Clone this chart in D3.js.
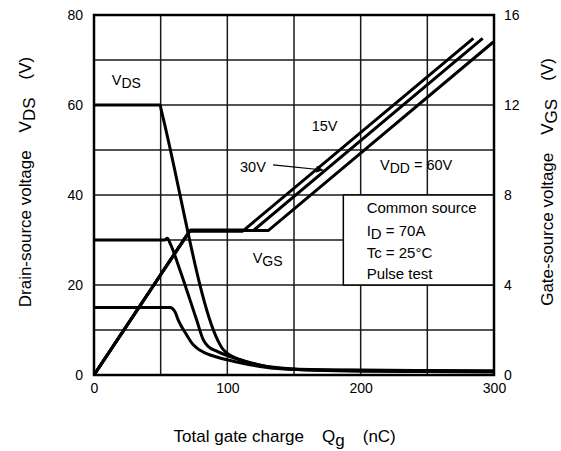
<!DOCTYPE html>
<html><head><meta charset="utf-8">
<script src="https://cdn.jsdelivr.net/npm/d3@7"></script>
<style>
body{margin:0;background:#fff}
text{font-family:"Liberation Sans",Arial,Helvetica,sans-serif;fill:#000}
</style>
</head><body>
<svg id="c" width="561" height="451"></svg>
<script>
// ---- data ----
const qTicks = [0, 100, 200, 300];
const vdsTicks = [0, 20, 40, 60, 80];
const vgsTicks = [0, 4, 8, 12, 16];
const qGrid = [50, 100, 150, 200, 250];
const vGrid = [10, 20, 30, 40, 50, 60, 70];

// VDS curves [Qg (nC), VDS (V)]
const vds15 = [[0,15],[57,15],[60.8,14],[63.2,12.2],[69.5,8.9],[74.5,6.7],[78,5.8],[82,5.1],[92,4.0],[107,2.9],[124.5,1.9],[140,1.4],[200,0.85],[250,0.75],[300,0.65]];
const vds30 = [[0,30],[53,30],[55,30.4],[57,29.3],[64.5,23.3],[77,12.2],[82,7.8],[85.5,6.4],[92,5.3],[102,4.1],[117,2.7],[132,1.75],[150,1.3],[200,1.0],[250,0.9],[300,0.8]];
const vds60 = [[0,60],[49.5,60],[50.5,58.8],[93,7.6],[96,6.0],[99.5,4.9],[104,4.1],[110,3.4],[118,2.7],[125,2.2],[135,1.7],[150,1.35],[200,1.1],[250,1.0],[300,0.95]];

// VGS curves [Qg (nC), VGS (V)]
const vgs15 = [[0,0],[72,6.42],[112,6.42],[284.5,14.96]];
const vgs30 = [[0,0],[72,6.42],[119.5,6.42],[291.5,14.96]];
const vgs60 = [[0,0],[72,6.42],[130.7,6.42],[299.5,14.8]];
const plateau = [[72,6.42],[112,6.42]];

const boxLines = ["Common source", "ID = 70A", "Tc = 25°C", "Pulse test"];

// ---- layout ----
const L = 94, R = 494, T = 15, B = 375;
const svg = d3.select("#c");
const x = d3.scaleLinear().domain([0,300]).range([L,R]);
const yL = d3.scaleLinear().domain([0,80]).range([B,T]);
const yR = d3.scaleLinear().domain([0,16]).range([B,T]);

svg.append("defs").append("clipPath").attr("id","clip")
  .append("rect").attr("x",L).attr("y",T).attr("width",R-L).attr("height",B-T);

// grid
const g = svg.append("g");
g.selectAll(".vg").data(qGrid).join("line")
  .attr("x1",d=>x(d)).attr("x2",d=>x(d)).attr("y1",T).attr("y2",B)
  .attr("stroke","#1a1a1a").attr("stroke-width",1.5);
g.selectAll(".hg").data(vGrid).join("line")
  .attr("x1",L).attr("x2",R).attr("y1",d=>yL(d)).attr("y2",d=>yL(d))
  .attr("stroke","#1a1a1a").attr("stroke-width",1.5);

// condition box
svg.append("rect").attr("x",x(187)).attr("y",yL(40))
  .attr("width",x(300)-x(187)).attr("height",yL(20)-yL(40))
  .attr("fill","#fff").attr("stroke","#000").attr("stroke-width",1.5);

// axes (labels only)
const fs = "14px";
const axL = d3.axisLeft(yL).tickValues(vdsTicks).tickSize(0).tickPadding(11);
const axR = d3.axisRight(yR).tickValues(vgsTicks).tickSize(0).tickPadding(10);
const axB = d3.axisBottom(x).tickValues(qTicks).tickSize(0).tickPadding(8);
[[axL,`translate(${L},0)`],[axR,`translate(${R},0)`],[axB,`translate(0,${B})`]].forEach(([a,t])=>{
  const gg = svg.append("g").attr("transform",t).call(a);
  gg.select(".domain").remove();
  gg.selectAll("text").style("font-size",fs).style("font-family",'"Liberation Sans",Arial,sans-serif').attr("fill","#000");
});

// curves
const plot = svg.append("g").attr("clip-path","url(#clip)");
const lineL = d3.line().x(d=>x(d[0])).y(d=>yL(d[1])).curve(d3.curveMonotoneX);
const lineR = d3.line().x(d=>x(d[0])).y(d=>yR(d[1]));
[vgs15, vgs30, vgs60].forEach(s=>{
  plot.append("path").attr("d",lineR(s)).attr("fill","none")
    .attr("stroke","#000").attr("stroke-width",3).attr("stroke-linejoin","miter");
});
plot.append("path").attr("d",lineR(plateau)).attr("fill","none")
  .attr("stroke","#000").attr("stroke-width",4.2);
[vds15, vds30, vds60].forEach(s=>{
  plot.append("path").attr("d",lineL(s)).attr("fill","none")
    .attr("stroke","#000").attr("stroke-width",3).attr("stroke-linejoin","round");
});

// plot border
svg.append("rect").attr("x",L).attr("y",T).attr("width",R-L).attr("height",B-T)
  .attr("fill","none").attr("stroke","#000").attr("stroke-width",2.5);

// annotations
function sub(sel, main, s, after, size){
  sel.append("tspan").text(main);
  sel.append("tspan").attr("dy",3).style("font-size",size).text(s);
  if (after) sel.append("tspan").attr("dy",-3).text(after);
}
const af = "14.5px";
sub(svg.append("text").attr("x",x(13.3)).attr("y",yL(64.44)).style("font-size",af),"V","DS",null,"14px");
svg.append("text").attr("x",x(163.3)).attr("y",yL(54.33)).style("font-size",af).text("15V");
svg.append("text").attr("x",x(109.5)).attr("y",yL(45.18)).style("font-size",af).text("30V");
sub(svg.append("text").attr("x",x(214.5)).attr("y",yL(45.56)).style("font-size",af),"V","DD"," = 60V","14px");
sub(svg.append("text").attr("x",x(119)).attr("y",yL(24.8)).style("font-size",af),"V","GS",null,"14px");

// arrow for 30V
svg.select("defs").append("marker").attr("id","arr")
  .attr("viewBox","0 0 10 10").attr("refX",10).attr("refY",5)
  .attr("markerWidth",10).attr("markerHeight",7).attr("markerUnits","userSpaceOnUse")
  .attr("orient","auto")
  .append("path").attr("d","M0,0 L10,5 L0,10 Z").attr("fill","#000");
svg.append("line").attr("x1",x(134.3)).attr("y1",yL(46.7)).attr("x2",x(172)).attr("y2",yL(45.56))
  .attr("stroke","#000").attr("stroke-width",1.2).attr("marker-end","url(#arr)");

// box text
const bf = "15px";
const by = [36.1, 30.8, 26.0, 21.3];
svg.append("text").attr("x",x(204.5)).attr("y",yL(by[0])).style("font-size",bf).text(boxLines[0]);
sub(svg.append("text").attr("x",x(204.5)).attr("y",yL(by[1])).style("font-size",bf),"I","D"," = 70A","15px");
svg.append("text").attr("x",x(204.5)).attr("y",yL(by[2])).style("font-size",bf).text(boxLines[2]);
svg.append("text").attr("x",x(204.5)).attr("y",yL(by[3])).style("font-size",bf).text(boxLines[3]);

// axis titles
const tf = "17px";
function title(tx, ty, rot, a, s, b, gap){
  const t = svg.append("text").attr("transform",`translate(${tx},${ty}) rotate(${rot})`)
    .attr("text-anchor","middle").style("font-size",tf);
  t.append("tspan").text(a);
  t.append("tspan").attr("dx",gap).text(s[0]);
  t.append("tspan").attr("dy",4).text(s[1]);
  t.append("tspan").attr("dy",-4).attr("dx",gap).text(b);
}
title(30.5, 182, -90, "Drain-source voltage", ["V","DS"], "(V)", 18);
title(553, 182, -90, "Gate-source voltage", ["V","GS"], "(V)", 18);
title(284.7, 441.7, 0, "Total gate charge", ["Q","g"], "(nC)", 18);
</script>
</body></html>
